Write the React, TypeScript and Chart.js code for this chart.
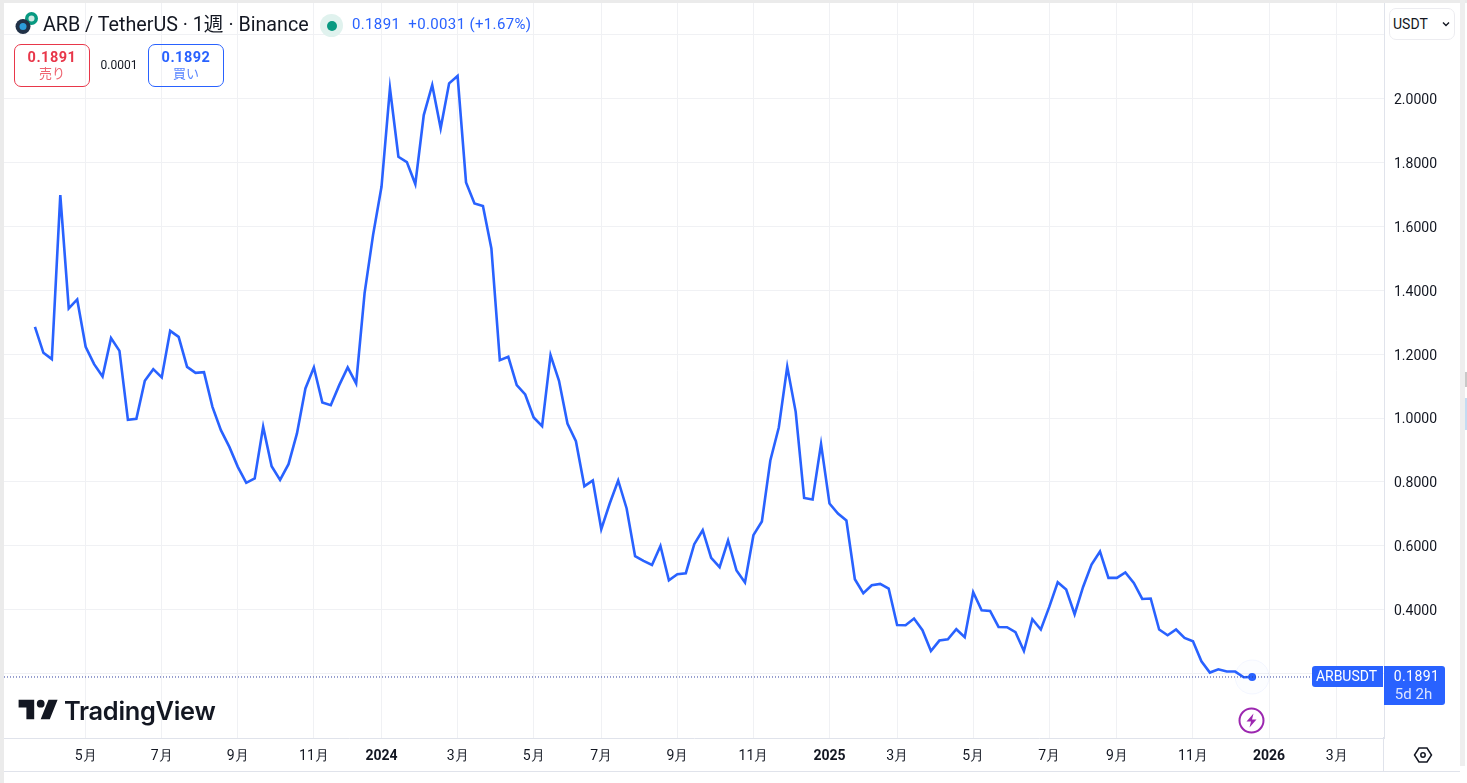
import { useEffect, useRef } from "react";
import { Chart, registerables } from "chart.js";

Chart.register(...registerables);

// weekly closes, ARB/USDT
const closes = [
  1.2855, 1.2041, 1.1843, 1.698, 1.3431, 1.3713, 1.2229, 1.1687, 1.1301, 1.2501,
  1.2103, 0.9942, 0.9973, 1.1164, 1.153, 1.127, 1.273, 1.2542, 1.1602, 1.1414,
  1.1436, 1.0349, 0.9619, 0.9096, 0.847, 0.7969, 0.8106, 0.9723, 0.8492, 0.8063,
  0.8554, 0.9516, 1.0926, 1.1583, 1.0487, 1.0403, 1.1029, 1.1583, 1.1082, 1.3911,
  1.5727, 1.724, 2.0323, 1.818, 1.8014, 1.7325, 1.9486, 2.0426, 1.907, 2.0479,
  2.0708, 1.7378, 1.672, 1.6636, 1.5311, 1.1812, 1.1915, 1.1029, 1.0738, 1.0017,
  0.9745, 1.1969, 1.1164, 0.9829, 0.9275, 0.7865, 0.8044, 0.6519, 0.7324, 0.8044,
  0.7167, 0.5673, 0.5526, 0.54, 0.5995, 0.4921, 0.5109, 0.514, 0.6049, 0.6487,
  0.5619, 0.5328, 0.6165, 0.5225, 0.4849, 0.6331, 0.676, 0.867, 0.9704, 1.1602,
  1.0193, 0.7496, 0.7449, 0.9181, 0.7324, 0.701, 0.6791, 0.4952, 0.4514, 0.4764,
  0.4805, 0.4661, 0.3521, 0.3511, 0.3721, 0.3355, 0.2706, 0.3032, 0.3073, 0.3386,
  0.3135, 0.4545, 0.3981, 0.3959, 0.3458, 0.3449, 0.3292, 0.2706, 0.3699, 0.3377,
  0.4085, 0.4858, 0.463, 0.3856, 0.4711, 0.5413, 0.582, 0.4993, 0.4993, 0.5162,
  0.4836, 0.4335, 0.4348, 0.3377, 0.3198, 0.3377, 0.3114, 0.301, 0.2384, 0.203,
  0.2133, 0.2061, 0.2061, 0.1883, 0.1891,
];

const timeTickWeeks = [6, 15, 24, 33, 41, 50, 59, 67, 76, 85, 94, 102, 111, 120, 128, 137, 146, 154];
const timeTickLabels = ["5月", "7月", "9月", "11月", "2024", "3月", "5月", "7月", "9月", "11月", "2025", "3月", "5月", "7月", "9月", "11月", "2026", "3月"];
const priceTicks = [0.2, 0.4, 0.6, 0.8, 1, 1.2, 1.4, 1.6, 1.8, 2, 2.2];
const hiddenPriceTicks = [0.2, 2.2];

const lastClose = 0.1891;
const weekMin = -3.66;
const weekMax = 159.6;
const blue = "#2962ff";
const font = "Roboto, sans-serif";
const gridColor = "#f0f1f4";
const axisColor = "#e0e3eb";
const sideColor = "#ebebeb";

function box(left: number, top: number, width: number, height: number): React.CSSProperties {
  return { position: "absolute", left, top, width, height, boxSizing: "border-box" };
}

function centred(left: number, top: number, width: number, height: number, size: number, color: string, bold = false): React.CSSProperties {
  return {
    ...box(left, top, width, height),
    fontSize: size,
    color,
    fontWeight: bold ? 700 : 400,
    lineHeight: height + "px",
    textAlign: "center",
    whiteSpace: "nowrap",
  };
}

function PriceChart() {
  const ref = useRef<HTMLCanvasElement | null>(null);

  useEffect(() => {
    if (!ref.current) return;

    const chart = new Chart(ref.current, {
      type: "line",
      data: {
        datasets: [
          {
            data: [{ x: weekMin, y: lastClose }, { x: weekMax, y: lastClose }],
            borderColor: "#2f3f9f",
            borderWidth: 1,
            borderDash: [1, 2],
            pointRadius: 0,
          },
          {
            data: closes.map((y, x) => ({ x, y })),
            borderColor: blue,
            borderWidth: 2.6,
            tension: 0,
            pointBackgroundColor: blue,
            pointBorderWidth: 0,
            pointRadius: closes.map((_, i) => (i === closes.length - 1 ? 4 : 0)),
          },
          {
            data: [{ x: closes.length - 1, y: lastClose }],
            showLine: false,
            pointRadius: 17,
            pointBackgroundColor: "rgba(41,98,255,0.012)",
            pointBorderColor: "rgba(41,98,255,0.05)",
            pointBorderWidth: 1,
          },
        ],
      },
      options: {
        animation: false,
        responsive: false,
        parsing: false,
        layout: { autoPadding: false, padding: { left: 4, top: 3, right: 7, bottom: 11 } },
        plugins: { legend: { display: false }, tooltip: { enabled: false } },
        scales: {
          x: {
            type: "linear",
            min: weekMin,
            max: weekMax,
            afterBuildTicks: (axis) => {
              axis.ticks = timeTickWeeks.map((value) => ({ value }));
            },
            afterFit: (axis) => {
              axis.height = 34;
              axis.paddingLeft = 0;
              axis.paddingRight = 0;
            },
            grid: { color: gridColor, drawTicks: false, tickLength: 0 },
            border: { color: axisColor },
            ticks: {
              autoSkip: false,
              maxRotation: 0,
              padding: 10,
              color: "#131722",
              font: (ctx) => ({
                family: font,
                size: 14,
                weight: /^\d{4}$/.test(String(ctx.tick?.label)) ? "bold" : "normal",
              }),
              callback: (value) => timeTickLabels[timeTickWeeks.indexOf(Number(value))],
            },
          },
          y: {
            position: "right",
            min: -0.0019,
            max: 2.2994,
            afterBuildTicks: (axis) => {
              axis.ticks = priceTicks.map((value) => ({ value }));
            },
            afterFit: (axis) => {
              axis.width = 76;
              axis.paddingTop = 0;
              axis.paddingBottom = 0;
            },
            grid: { color: gridColor, drawTicks: false, tickLength: 0 },
            border: { color: axisColor },
            ticks: {
              padding: 10,
              color: "#131722",
              // the blank first line nudges the label down onto its grid line
              font: { family: font, size: 14, lineHeight: 0.28 },
              callback: (value) => (hiddenPriceTicks.includes(Number(value)) ? "" : ["", Number(value).toFixed(4)]),
            },
          },
        },
      },
    });

    return () => chart.destroy();
  }, []);

  return <canvas ref={ref} width={1467} height={783} style={{ display: "block" }} />;
}

export default function App() {
  return (
    <div style={{ position: "fixed", left: 0, top: 0, width: 1467, height: 783, background: "#fff", overflow: "hidden", fontFamily: font }}>
      <PriceChart />

      {/* page background around the widget */}
      <div style={{ ...box(0, 0, 1467, 3), background: sideColor }} />
      <div style={{ ...box(0, 0, 4, 783), background: sideColor }} />
      <div style={{ ...box(1460, 0, 5, 766), background: "#eeeeee" }} />
      <div style={{ ...box(1465, 372, 2, 15), background: "#c9c9c9" }} />
      <div style={{ ...box(1465, 398, 2, 32), background: "#c5dcf2" }} />
      <div style={{ ...box(4, 771, 1456, 1), background: axisColor }} />
      <div style={{ ...box(1383, 737, 1, 34), background: axisColor }} />

      {/* symbol header */}
      <svg style={box(15, 11, 24, 24)} viewBox="0 0 24 24">
        <circle cx="16.5" cy="7.5" r="6.5" fill="#089981" />
        <circle cx="16.5" cy="7.5" r="3" fill="#cfe9e3" />
        <circle cx="8" cy="15.5" r="7.5" fill="#213147" />
        <circle cx="8" cy="15.5" r="3.5" fill="#2d9cdb" />
      </svg>
      <div style={{ position: "absolute", left: 43, top: 13, fontSize: 19.7, lineHeight: "24px", color: "#131722", whiteSpace: "nowrap", fontFamily: "Roboto, 'Noto Sans CJK JP', sans-serif" }}>
        ARB / TetherUS · 1週 · Binance
      </div>
      <div style={{ ...box(320, 14, 23, 23), borderRadius: 12, background: "#e0f2ee" }} />
      <div style={{ ...box(326.5, 20.5, 10, 10), borderRadius: 5, background: "#089981" }} />
      <div style={{ position: "absolute", left: 352, top: 14, fontSize: 15, letterSpacing: 0.35, lineHeight: "20px", color: blue, whiteSpace: "pre" }}>
        0.1891  +0.0031 (+1.67%)
      </div>

      {/* sell / buy buttons */}
      <div style={{ ...box(14, 44, 76, 43), border: "1px solid #e8374a", borderRadius: 7 }} />
      <div style={{ ...centred(14, 49, 76, 18, 14.5, "#e8374a", true), letterSpacing: 0.5 }}>0.1891</div>
      <div style={{ ...centred(14, 64, 76, 17, 13, "#ee6470"), fontFamily: "'Noto Sans CJK JP', sans-serif" }}>売り</div>
      <div style={centred(90, 56, 58, 18, 12, "#131722")}>0.0001</div>
      <div style={{ ...box(148, 44, 76, 43), border: "1px solid #2962ff", borderRadius: 7 }} />
      <div style={{ ...centred(148, 49, 76, 18, 14.5, blue, true), letterSpacing: 0.5 }}>0.1892</div>
      <div style={{ ...centred(148, 64, 76, 17, 13, "#5a86ff"), fontFamily: "'Noto Sans CJK JP', sans-serif" }}>買い</div>

      {/* currency picker */}
      <div style={{ ...box(1389, 8, 66, 32), border: "1px solid #ececf0", borderRadius: 7, background: "#fff" }} />
      <div style={{ position: "absolute", left: 1393, top: 15, fontSize: 14, lineHeight: "18px", color: "#131722" }}>USDT</div>
      <svg style={box(1441, 20, 10, 8)} viewBox="0 0 10 8">
        <path d="M2 2.5 5 5.5 8 2.5" fill="none" stroke="#131722" strokeWidth="1.4" />
      </svg>

      {/* last price labels */}
      <div style={{ ...box(1312, 666, 71, 21), background: blue, borderRadius: "3px 0 0 3px" }} />
      <div style={{ ...centred(1311, 666, 71, 21, 14, "#fff") }}>ARBUSDT</div>
      <div style={{ ...box(1384, 666, 61, 39), background: blue, borderRadius: "0 3px 3px 0" }} />
      <div style={{ ...centred(1386, 667, 61, 19, 14, "#fff"), letterSpacing: 0.45 }}>0.1891</div>
      <div style={{ ...centred(1383, 685, 61, 19, 15, "#dbe4ff") }}>5d 2h</div>

      {/* lightning event marker */}
      <svg style={box(1238, 707, 27, 27)} viewBox="0 0 27 27">
        <circle cx="13.5" cy="13.5" r="12" fill="#fff" stroke="#9c27b0" strokeWidth="2" />
        <path d="M15.5 6.5 8.5 14.5h4.5l-1.5 6 7-8h-4.5z" fill="#9c27b0" />
      </svg>

      {/* TradingView watermark */}
      <svg style={box(16.4, 692.2, 46.8, 36.4)} viewBox="0 0 36 28">
        <path d="M14 6H2v6h6v9h6V6Zm12 15h-7l6-15h7l-6 15Zm-7-9a3 3 0 1 0 0-6 3 3 0 0 0 0 6Z" fill="#131722" />
      </svg>
      <div style={{ position: "absolute", left: 64, top: 695, fontFamily: "Inter, sans-serif", fontSize: 25.4, fontWeight: 600, lineHeight: "32px", letterSpacing: -0.3, color: "#131722" }}>
        TradingView
      </div>

      {/* chart settings hexagon */}
      <svg style={box(1413, 745, 20, 20)} viewBox="0 0 20 20">
        <path d="M6 3h8L18.5 10 14 17H6L1.5 10z" fill="none" stroke="#131722" strokeWidth="1.5" />
        <circle cx="10" cy="10" r="2.2" fill="none" stroke="#131722" strokeWidth="1.5" />
      </svg>
    </div>
  );
}
